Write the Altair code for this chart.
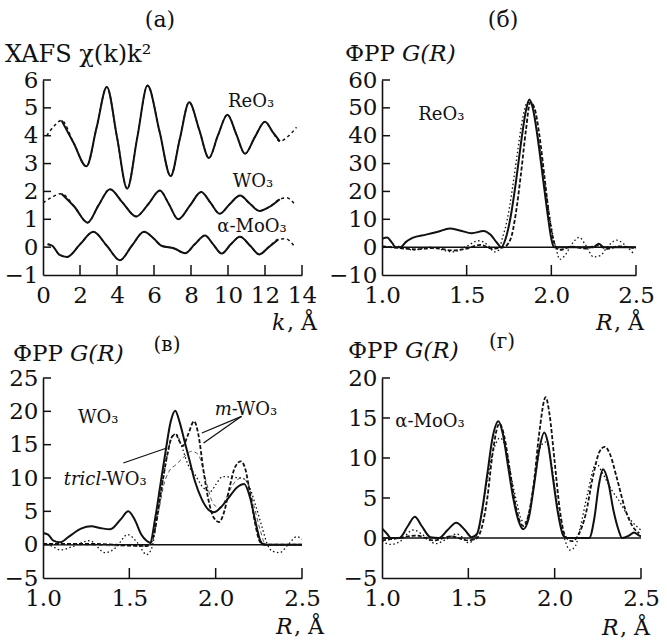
import altair as alt
import pandas as pd

FONT = "DejaVu Serif"

# ---------------- Panel (a): XAFS chi(k)k^2 ----------------
a_reo3_k = [0.2, 0.6, 1.0, 1.65, 2.35, 2.9, 3.45, 4.0, 4.55, 5.1, 5.65, 6.3, 6.9, 7.4, 7.9, 8.45, 8.97, 9.45, 9.97, 10.45, 10.92, 11.45, 12.0, 12.4, 12.8, 13.2, 13.7]
a_reo3_v = [4.0, 4.35, 4.55, 3.75, 2.9, 4.3, 5.75, 3.95, 2.1, 3.95, 5.8, 4.15, 2.55, 3.9, 5.2, 4.2, 3.2, 4.0, 4.75, 4.05, 3.35, 3.95, 4.5, 4.15, 3.8, 3.95, 4.3]
a_wo3_k = [0.0, 0.5, 1.0, 1.7, 2.41, 3.0, 3.62, 4.3, 5.03, 5.7, 6.32, 6.8, 7.31, 7.95, 8.55, 9.05, 9.55, 10.1, 10.65, 11.2, 11.7, 12.25, 12.8, 13.17, 13.62]
a_wo3_v = [1.59, 1.8, 1.92, 1.45, 0.88, 1.5, 2.08, 1.6, 1.1, 1.55, 2.03, 1.55, 1.0, 1.5, 1.98, 1.6, 1.2, 1.55, 1.85, 1.55, 1.3, 1.45, 1.72, 1.77, 1.53]
a_moo3_k = [0.25, 0.5, 0.9, 1.3, 2.0, 2.72, 3.45, 4.16, 4.8, 5.46, 6.0, 6.4, 7.1, 7.68, 8.2, 8.76, 9.2, 9.66, 10.15, 10.65, 11.2, 11.69, 12.2, 12.72, 13.1, 13.57]
a_moo3_v = [0.1, 0.05, -0.28, -0.35, 0.1, 0.55, 0.05, -0.47, 0.05, 0.55, 0.3, 0.05, -0.05, -0.22, 0.1, 0.42, 0.1, -0.23, 0.1, 0.37, 0.05, -0.26, 0.0, 0.28, 0.3, 0.05]
a_exp_range = {"ReO3": (1.0, 12.8), "WO3": (1.0, 12.8), "MoO3": (0.25, 12.72)}
a_labels = ["ReO₃", "WO₃", "α-MoO₃"]
a_label_k = [11.25, 11.35, 11.3]
a_label_v = [5.2, 2.33, 0.72]
a_xticks = [0, 2, 4, 6, 8, 10, 12, 14]
a_yticks = [-1, 0, 1, 2, 3, 4, 5, 6]

# ---------------- Panel (b): ReO3 G(R) ----------------
b_solid_r = [1.0, 1.03, 1.06, 1.08, 1.11, 1.14, 1.18, 1.26, 1.33, 1.40, 1.46, 1.53, 1.6, 1.64, 1.68, 1.705, 1.73, 1.76, 1.79, 1.82, 1.85, 1.87, 1.89, 1.92, 1.95, 1.98, 2.0, 2.015, 2.25, 2.28, 2.31, 2.5]
b_solid_g = [3.0, 3.5, 1.5, 0.0, 0.0, 1.8, 3.3, 4.5, 5.5, 6.7, 6.0, 5.0, 5.8, 4.5, 1.5, 0.0, 3, 11, 23, 37, 49, 53, 50, 39, 25, 11, 3, 0, 0, 1.2, 0, 0]
b_dash_r = [1.0, 1.1, 1.2, 1.3, 1.42, 1.5, 1.58, 1.65, 1.72, 1.76, 1.79, 1.82, 1.85, 1.875, 1.90, 1.93, 1.96, 1.99, 2.02, 2.05, 2.12, 2.2, 2.27, 2.33, 2.4, 2.5]
b_dash_g = [0.3, -0.3, -0.8, -0.3, -1.2, -0.5, 0.8, -0.5, 0, 3, 12, 26, 42, 52, 50, 40, 25, 10, 1, -1, 0.2, -0.5, 0.6, -0.6, 0.3, -0.5]
b_dot_r = [1.0, 1.1, 1.18, 1.28, 1.42, 1.5, 1.57, 1.62, 1.667, 1.69, 1.71, 1.74, 1.77, 1.80, 1.83, 1.86, 1.88, 1.92, 1.95, 1.98, 2.01, 2.03, 2.05, 2.08, 2.12, 2.165, 2.2, 2.25, 2.29, 2.33, 2.386, 2.44, 2.485]
b_dot_g = [-0.2, 0.3, -1.0, 0.0, -1.7, 0.3, 2.3, 1.0, -1.7, -1.0, 3, 10, 21, 34, 46, 52, 52, 40, 28, 15, 4, -1, -4.4, -3, 1, 3.5, 1, -3.5, -3, 0, 2.5, 0.5, -2.3]
b_label_r = [1.35]
b_label_g = [47.6]
b_xticks = [1.5, 2.0, 2.5]
b_yticks = [-10, 0, 10, 20, 30, 40, 50, 60]

# ---------------- Panel (c): WO3 G(R) ----------------
c_solid_r = [1.0, 1.03, 1.06, 1.097, 1.15, 1.22, 1.28, 1.33, 1.39, 1.45, 1.494, 1.53, 1.57, 1.60, 1.62, 1.65, 1.68, 1.71, 1.74, 1.766, 1.79, 1.82, 1.85, 1.88, 1.92, 1.96, 1.99, 2.03, 2.08, 2.12, 2.165, 2.2, 2.23, 2.26, 2.28, 2.5]
c_solid_g = [1.75, 1.5, 0.6, 0.35, 1.2, 2.4, 2.75, 2.5, 2.3, 3.8, 5.0, 3.8, 1.5, 0.6, 0.3, 4, 9, 14, 18.5, 20.1, 18.5, 15.5, 12.5, 9.5, 6.8, 5.2, 4.85, 5.6, 7.2, 8.5, 9.1, 7, 3.5, 0.5, 0, 0]
c_mA_r = [1.0, 1.3, 1.6, 1.63, 1.66, 1.69, 1.72, 1.75, 1.77, 1.79, 1.81, 1.84, 1.875, 1.90, 1.93, 1.96, 1.99, 2.02, 2.05, 2.08, 2.11, 2.145, 2.17, 2.2, 2.23, 2.26, 2.3, 2.5]
c_mA_g = [0.1, 0.1, -0.2, 0.5, 4, 9, 13.5, 16.3, 16.5, 15.5, 14.8, 16.5, 18.5, 16.5, 11, 6.5, 4, 3.4, 5, 8.5, 11.5, 12.5, 11.5, 7.5, 3, 0.3, 0, 0]
c_mB_r = [1.0, 1.6, 1.64, 1.67, 1.70, 1.73, 1.77, 1.81, 1.86, 1.90, 1.93, 1.96, 1.99, 2.03, 2.06, 2.10, 2.15, 2.18, 2.22, 2.26, 2.29, 2.5]
c_mB_g = [0.1, -0.2, 1, 5, 9, 11, 12, 13, 14, 13.5, 11, 8, 6, 5.5, 7, 9, 10, 9.5, 6, 2, 0, 0]
c_tr_r = [1.0, 1.05, 1.1, 1.17, 1.27, 1.36, 1.42, 1.49, 1.55, 1.60, 1.63, 1.66, 1.69, 1.72, 1.75, 1.77, 1.80, 1.84, 1.88, 1.93, 1.97, 2.00, 2.04, 2.10, 2.15, 2.19, 2.23, 2.27, 2.30, 2.33, 2.37, 2.42, 2.47, 2.5]
c_tr_g = [0.2, -0.2, -0.8, -0.3, 0.6, -1.2, -0.5, 1.5, 0.2, -1.5, -0.5, 4, 9, 13.5, 16.3, 16.6, 15, 12, 10.5, 8.5, 8.0, 9, 10.2, 10.1, 10.0, 9, 6, 2.5, 0, -1.0, -1.2, 0, 1.2, 0.8]
c_xticks = [1.5, 2.0, 2.5]
c_yticks = [-5, 0, 5, 10, 15, 20, 25]
# leader lines (data units): tricl, m (two)
c_lead_r1 = [1.465, 2.15, 2.15]
c_lead_g1 = [12.25, 19.25, 19.25]
c_lead_r2 = [1.717, 1.92, 1.93]
c_lead_g2 = [14.5, 16.75, 15.25]

# ---------------- Panel (d): alpha-MoO3 G(R) ----------------
d_solid_r = [1.0, 1.03, 1.05, 1.1, 1.15, 1.19, 1.23, 1.28, 1.33, 1.38, 1.43, 1.48, 1.52, 1.55, 1.58, 1.61, 1.64, 1.674, 1.70, 1.73, 1.76, 1.79, 1.818, 1.85, 1.88, 1.91, 1.94, 1.96, 1.99, 2.02, 2.05, 2.07, 2.2, 2.23, 2.255, 2.28, 2.31, 2.34, 2.37, 2.39, 2.43, 2.46, 2.49, 2.5]
d_solid_g = [1.2, 0.5, 0, 0, 1.5, 2.65, 1.5, 0.1, 0, 1.0, 1.9, 1.0, 0.1, 0.5, 3.5, 8, 12.5, 14.6, 13, 9, 5, 2.2, 1.1, 2.5, 6.5, 11, 13.2, 12, 7.5, 3, 0.3, 0, 0, 2.5, 6.5, 8.6, 7, 3.5, 1, 0, 0.3, 0.7, 0.3, 0.2]
d_dash_r = [1.0, 1.1, 1.2, 1.3, 1.4, 1.5, 1.55, 1.58, 1.61, 1.64, 1.68, 1.71, 1.74, 1.77, 1.80, 1.82, 1.85, 1.88, 1.91, 1.948, 1.97, 2.00, 2.03, 2.06, 2.1, 2.14, 2.18, 2.22, 2.26, 2.29, 2.32, 2.36, 2.41, 2.45, 2.49]
d_dash_g = [-0.3, 0, 0.3, -0.3, 0.2, -0.3, 0, 1.5, 5, 10.5, 14.3, 12.5, 8.5, 4.5, 2, 1.5, 3, 7, 13, 17.6, 15.5, 9.5, 3.5, 0.3, -0.4, 0.5, 3, 7.5, 10.8, 11.4, 10.5, 7.5, 3.5, 1.5, 0.6]
d_dot_r = [1.0, 1.05, 1.1, 1.18, 1.25, 1.31, 1.37, 1.43, 1.47, 1.5, 1.54, 1.57, 1.60, 1.64, 1.683, 1.72, 1.75, 1.78, 1.81, 1.83, 1.86, 1.89, 1.92, 1.95, 1.98, 2.01, 2.05, 2.09, 2.12, 2.15, 2.19, 2.24, 2.28, 2.33, 2.37, 2.44, 2.5]
d_dot_g = [-0.4, -0.8, -0.5, 1.0, 0.2, -0.7, -0.2, 0.5, 0, -0.6, 0, 2, 6, 10.5, 12.5, 11, 7.5, 4.5, 2.2, 2, 4, 8, 11.5, 12.0, 9.5, 5, 0.5, -1.5, -1, 1.5, 5.5, 9.3, 8, 6, 4.75, 2.25, 1.0]
d_xticks = [1.5, 2.0, 2.5]
d_yticks = [-5, 0, 5, 10, 15, 20]

INK = "#111111"


def enc_x(dom, vals, fmt):
    return alt.X("x:Q", scale=alt.Scale(domain=dom, nice=False, zero=False),
                 axis=alt.Axis(values=vals, format=fmt, title=None, ticks=False,
                               labelFlush=False, labelOverlap=False, labelPadding=9,
                               labelFont=FONT, labelFontSize=23, labelColor=INK))


def enc_y(dom, vals):
    return alt.Y("y:Q", scale=alt.Scale(domain=dom, nice=False, zero=False),
                 axis=alt.Axis(values=vals, title=None, ticks=False,
                               labelOverlap=False, labelFlush=False, labelPadding=5,
                               labelFont=FONT, labelFontSize=23, labelColor=INK))


def curve(xs, ys, X, Y, dash=None, width=1.8, color=INK):
    df = pd.DataFrame({"x": xs, "y": ys})
    kw = dict(strokeWidth=width, color=color, interpolate="monotone", clip=True)
    if dash:
        kw["strokeDash"] = dash
    return alt.Chart(df).mark_line(**kw).encode(x=X, y=Y)


def ticks(xt, yt, X, Y, h, xlen=10, ylen=8):
    tx = alt.Chart(pd.DataFrame({"x": xt})).mark_rule(color=INK, strokeWidth=1.5).encode(
        x=X, y=alt.value(h), y2=alt.value(h - xlen))
    ty = alt.Chart(pd.DataFrame({"y": yt})).mark_rule(color=INK, strokeWidth=1.5).encode(
        y=Y, x=alt.value(0), x2=alt.value(ylen))
    return [tx, ty]


def ptext(txt, x, y, size=22, style="normal", align="left"):
    return alt.Chart(pd.DataFrame({"t": [txt]})).mark_text(
        font=FONT, fontSize=size, fontStyle=style, align=align, baseline="middle", color=INK
    ).encode(x=alt.value(x), y=alt.value(y), text="t:N")


def dtext(xs, ys, ts, X, Y, size=18, style="normal", align="center"):
    return alt.Chart(pd.DataFrame({"x": xs, "y": ys, "t": ts})).mark_text(
        font=FONT, fontSize=size, fontStyle=style, align=align, baseline="middle", color=INK
    ).encode(x=X, y=Y, text="t:N")


def zero_line(Y):
    return alt.Chart(pd.DataFrame({"y": [0]})).mark_rule(color=INK, strokeWidth=1.5).encode(y=Y)


def gr_title(x, y):
    return [ptext("ФРР", x, y, 23), ptext("G(R)", x + 57, y, 23, "italic")]


def unit_label(x, y, var, w):
    return [ptext(var, x, y, 22, "italic"), ptext(", Å", x + w, y, 22)]


# ---- build (a)
WA, HA = 259, 195
XA = enc_x([0, 14], a_xticks, "d")
YA = enc_y([-1, 6], a_yticks)
layers_a = []
for ks, vs, key in [(a_reo3_k, a_reo3_v, "ReO3"), (a_wo3_k, a_wo3_v, "WO3"), (a_moo3_k, a_moo3_v, "MoO3")]:
    layers_a.append(curve(ks, vs, XA, YA, dash=[3, 3], width=1.5))
    lo, hi = a_exp_range[key]
    ek = [k for k in ks if lo <= k <= hi]
    ev = [v for k, v in zip(ks, vs) if lo <= k <= hi]
    layers_a.append(curve(ek, ev, XA, YA, width=2.0))
layers_a += ticks(a_xticks[1:], a_yticks[1:], XA, YA, HA)
layers_a.append(dtext(a_label_k, a_label_v, a_labels, XA, YA))
layers_a.append(ptext("(a)", 117, -60, 22, align="center"))
layers_a.append(ptext("XAFS χ(k)k²", -38, -25, 24))
layers_a += unit_label(229, 243, "k", 15)
pa = alt.layer(*layers_a).properties(width=WA, height=HA)

# ---- build (b)
WB, HB = 254, 195
XB = enc_x([1.0, 2.5], [1.0, 1.5, 2.0, 2.5], ".1f")
YB = enc_y([-10, 60], b_yticks)
layers_b = [zero_line(YB),
            curve(b_dot_r, b_dot_g, XB, YB, dash=[1.5, 2.5], width=1.3),
            curve(b_dash_r, b_dash_g, XB, YB, dash=[4, 2], width=1.8),
            curve(b_solid_r, b_solid_g, XB, YB, width=2.0)]
layers_b += ticks(b_xticks, b_yticks[1:], XB, YB, HB)
layers_b.append(dtext(b_label_r, b_label_g, ["ReO₃"], XB, YB))
layers_b.append(ptext("(б)", 121, -60, 22, align="center"))
layers_b += gr_title(-37, -26)
layers_b += unit_label(214, 243, "R", 18)
pb = alt.layer(*layers_b).properties(width=WB, height=HB)

# ---- build (c)
WC, HC = 259, 200
XC = enc_x([1.0, 2.5], [1.0, 1.5, 2.0, 2.5], ".1f")
YC = enc_y([-5, 25], c_yticks)
lead = alt.Chart(pd.DataFrame({"x": c_lead_r1, "y": c_lead_g1, "x2": c_lead_r2, "y2": c_lead_g2})).mark_rule(
    color=INK, strokeWidth=1.3).encode(x=XC, y=YC, x2="x2:Q", y2="y2:Q")
layers_c = [zero_line(YC),
            curve(c_tr_r, c_tr_g, XC, YC, dash=[1.5, 2.5], width=1.3),
            curve(c_mB_r, c_mB_g, XC, YC, dash=[4, 3], width=1.0, color="#555555"),
            curve(c_mA_r, c_mA_g, XC, YC, dash=[4, 2], width=1.8),
            curve(c_solid_r, c_solid_g, XC, YC, width=2.0),
            lead]
layers_c += ticks(c_xticks, c_yticks[1:], XC, YC, HC)
layers_c.append(dtext([1.32], [19.05], ["WO₃"], XC, YC))
layers_c.append(dtext([1.337], [9.75], ["tricl"], XC, YC, style="italic", align="right"))
layers_c.append(dtext([1.337], [9.75], ["-WO₃"], XC, YC, align="left"))
layers_c.append(dtext([2.093], [20.25], ["m"], XC, YC, style="italic", align="right"))
layers_c.append(dtext([2.093], [20.25], ["-WO₃"], XC, YC, align="left"))
layers_c.append(ptext("(в)", 124, -33, 20, align="center"))
layers_c += gr_title(-30, -24)
layers_c += unit_label(233, 249, "R", 18)
pc = alt.layer(*layers_c).properties(width=WC, height=HC)

# ---- build (d)
WD, HD = 259, 200
XD = enc_x([1.0, 2.5], [1.0, 1.5, 2.0, 2.5], ".1f")
YD = enc_y([-5, 20], d_yticks)
layers_d = [zero_line(YD),
            curve(d_dot_r, d_dot_g, XD, YD, dash=[1.5, 2.5], width=1.3),
            curve(d_dash_r, d_dash_g, XD, YD, dash=[4, 2], width=1.8),
            curve(d_solid_r, d_solid_g, XD, YD, width=2.0)]
layers_d += ticks(d_xticks, d_yticks[1:], XD, YD, HD)
layers_d.append(dtext([1.278], [14.5], ["α-MoO₃"], XD, YD))
layers_d.append(ptext("(г)", 120, -36, 20, align="center"))
layers_d += gr_title(-34, -27)
layers_d += unit_label(220, 250, "R", 18)
pd_ = alt.layer(*layers_d).properties(width=WD, height=HD)

chart = alt.concat(pa, pb, pc, pd_, columns=2, spacing={"row": 103, "column": 80}, bounds="flush").properties(
    autosize=alt.AutoSizeParams(type="none"),
    padding={"left": 43, "top": 80, "right": 624, "bottom": 561},
    background="white",
).configure_view(stroke=None).configure_axis(
    domainColor=INK, domainWidth=1.6, grid=False,
)

chart.save("out.html", embed_options={"renderer": "svg", "actions": False})
